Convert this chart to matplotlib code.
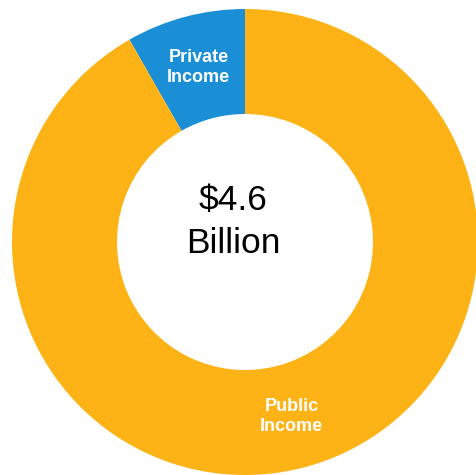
import matplotlib.pyplot as plt

# income sources, billions of dollars
sources = ['Private\nIncome', 'Public\nIncome']
amounts = [0.38, 4.22]
colors = ['#1A8FD6', '#FDB316']
total_label = '$4.6\nBillion'

plt.rcParams['font.family'] = ['Liberation Sans', 'DejaVu Sans']

fig = plt.figure(figsize=(4.76, 4.75), dpi=100)
ax = fig.add_axes([0, 0, 1, 1])
ax.axis('off')

cx, cy, r = 245, 233, 233
ring = 105

wedges, texts = ax.pie(amounts, labels=sources, colors=colors, startangle=90,
                       counterclock=True, center=(cx, cy), radius=r,
                       labeldistance=(r - ring / 2) / r,
                       wedgeprops=dict(width=ring, linewidth=0))
ax.set_xlim(0, 476)
ax.set_ylim(0, 475)
ax.set_aspect('equal')

for t in texts:
    t.set_ha('center')
    t.set_va('center')
    t.set_color('white')
    t.set_fontweight('bold')
    t.set_fontsize(13)
    t.set_linespacing(1.25)

ax.text(cx - 12, cy + 20, total_label, ha='center', va='center',
        fontsize=25.5, linespacing=1.35, color='black')

fig.savefig('out.png', dpi=100)
